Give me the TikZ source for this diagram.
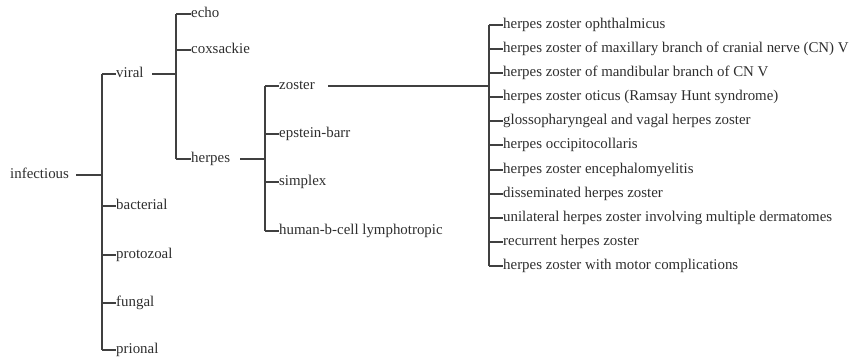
\documentclass[tikz,border=0pt]{standalone}
\usepackage{fontspec}
\setmainfont{Liberation Serif}
\newfontfamily\lblfont{Liberation Serif}
\begin{document}
\begin{tikzpicture}[x=1pt,y=-1pt,
  lbl/.style={anchor=west,inner sep=0pt,text height=10pt,text depth=3.5pt,font=\lblfont\fontsize{14.9}{16}\selectfont,text=black!82},
  br/.style={draw=black!75,line width=1.4pt}]
\useasboundingbox (0,0) rectangle (851,356);
% level 0
\node[lbl] (infectious) at (10,175) {infectious};
% level 1
\node[lbl] (viral) at (116,74) {viral};
\node[lbl] (bacterial) at (116,206) {bacterial};
\node[lbl] (protozoal) at (116,255) {protozoal};
\node[lbl] (fungal) at (116,303) {fungal};
\node[lbl] (prional) at (116,350) {prional};
% level 2
\node[lbl] (echo) at (191,14) {echo};
\node[lbl] (coxsackie) at (191,50) {coxsackie};
\node[lbl] (herpes) at (191,159) {herpes};
% level 3
\node[lbl] (zoster) at (279,86) {zoster};
\node[lbl] (epstein) at (279,134) {epstein-barr};
\node[lbl] (simplex) at (279,182) {simplex};
\node[lbl] (human) at (279,231) {human-b-cell lymphotropic};
% level 4
\node[lbl] (z1) at (503,25) {herpes zoster ophthalmicus};
\node[lbl] (z2) at (503,49) {herpes zoster of maxillary branch of cranial nerve (CN) V};
\node[lbl] (z3) at (503,73) {herpes zoster of mandibular branch of CN V};
\node[lbl] (z4) at (503,97) {herpes zoster oticus (Ramsay Hunt syndrome)};
\node[lbl] (z5) at (503,121) {glossopharyngeal and vagal herpes zoster};
\node[lbl] (z6) at (503,145) {herpes occipitocollaris};
\node[lbl] (z7) at (503,170) {herpes zoster encephalomyelitis};
\node[lbl] (z8) at (503,194) {disseminated herpes zoster};
\node[lbl] (z9) at (503,218) {unilateral herpes zoster involving multiple dermatomes};
\node[lbl] (z10) at (503,242) {recurrent herpes zoster};
\node[lbl] (z11) at (503,266) {herpes zoster with motor complications};
% junctions
\coordinate (s0) at (76,175);  \coordinate (j0) at (102,175);
\coordinate (s1) at (152,74);  \coordinate (j1) at (176,74);
\coordinate (s2) at (240,159); \coordinate (j2) at (265,159);
\coordinate (s3) at (328,86);  \coordinate (j3) at (489,86);
% level 0 -> 1
\draw[br] (s0) -- (j0);
\draw[br] (j0 |- viral.west) -- (j0 |- prional.west);
\foreach \n in {viral,bacterial,protozoal,fungal,prional}
  \draw[br] (j0 |- \n.west) -- (\n.west);
% viral -> 2
\draw[br] (s1) -- (j1);
\draw[br] (j1 |- echo.west) -- (j1 |- herpes.west);
\foreach \n in {echo,coxsackie,herpes}
  \draw[br] (j1 |- \n.west) -- (\n.west);
% herpes -> 3
\draw[br] (s2) -- (j2);
\draw[br] (j2 |- zoster.west) -- (j2 |- human.west);
\foreach \n in {zoster,epstein,simplex,human}
  \draw[br] (j2 |- \n.west) -- (\n.west);
% zoster -> 4
\draw[br] (s3) -- (j3);
\draw[br] (j3 |- z1.west) -- (j3 |- z11.west);
\foreach \n in {z1,z2,z3,z4,z5,z6,z7,z8,z9,z10,z11}
  \draw[br] (j3 |- \n.west) -- (\n.west);
\end{tikzpicture}
\end{document}
